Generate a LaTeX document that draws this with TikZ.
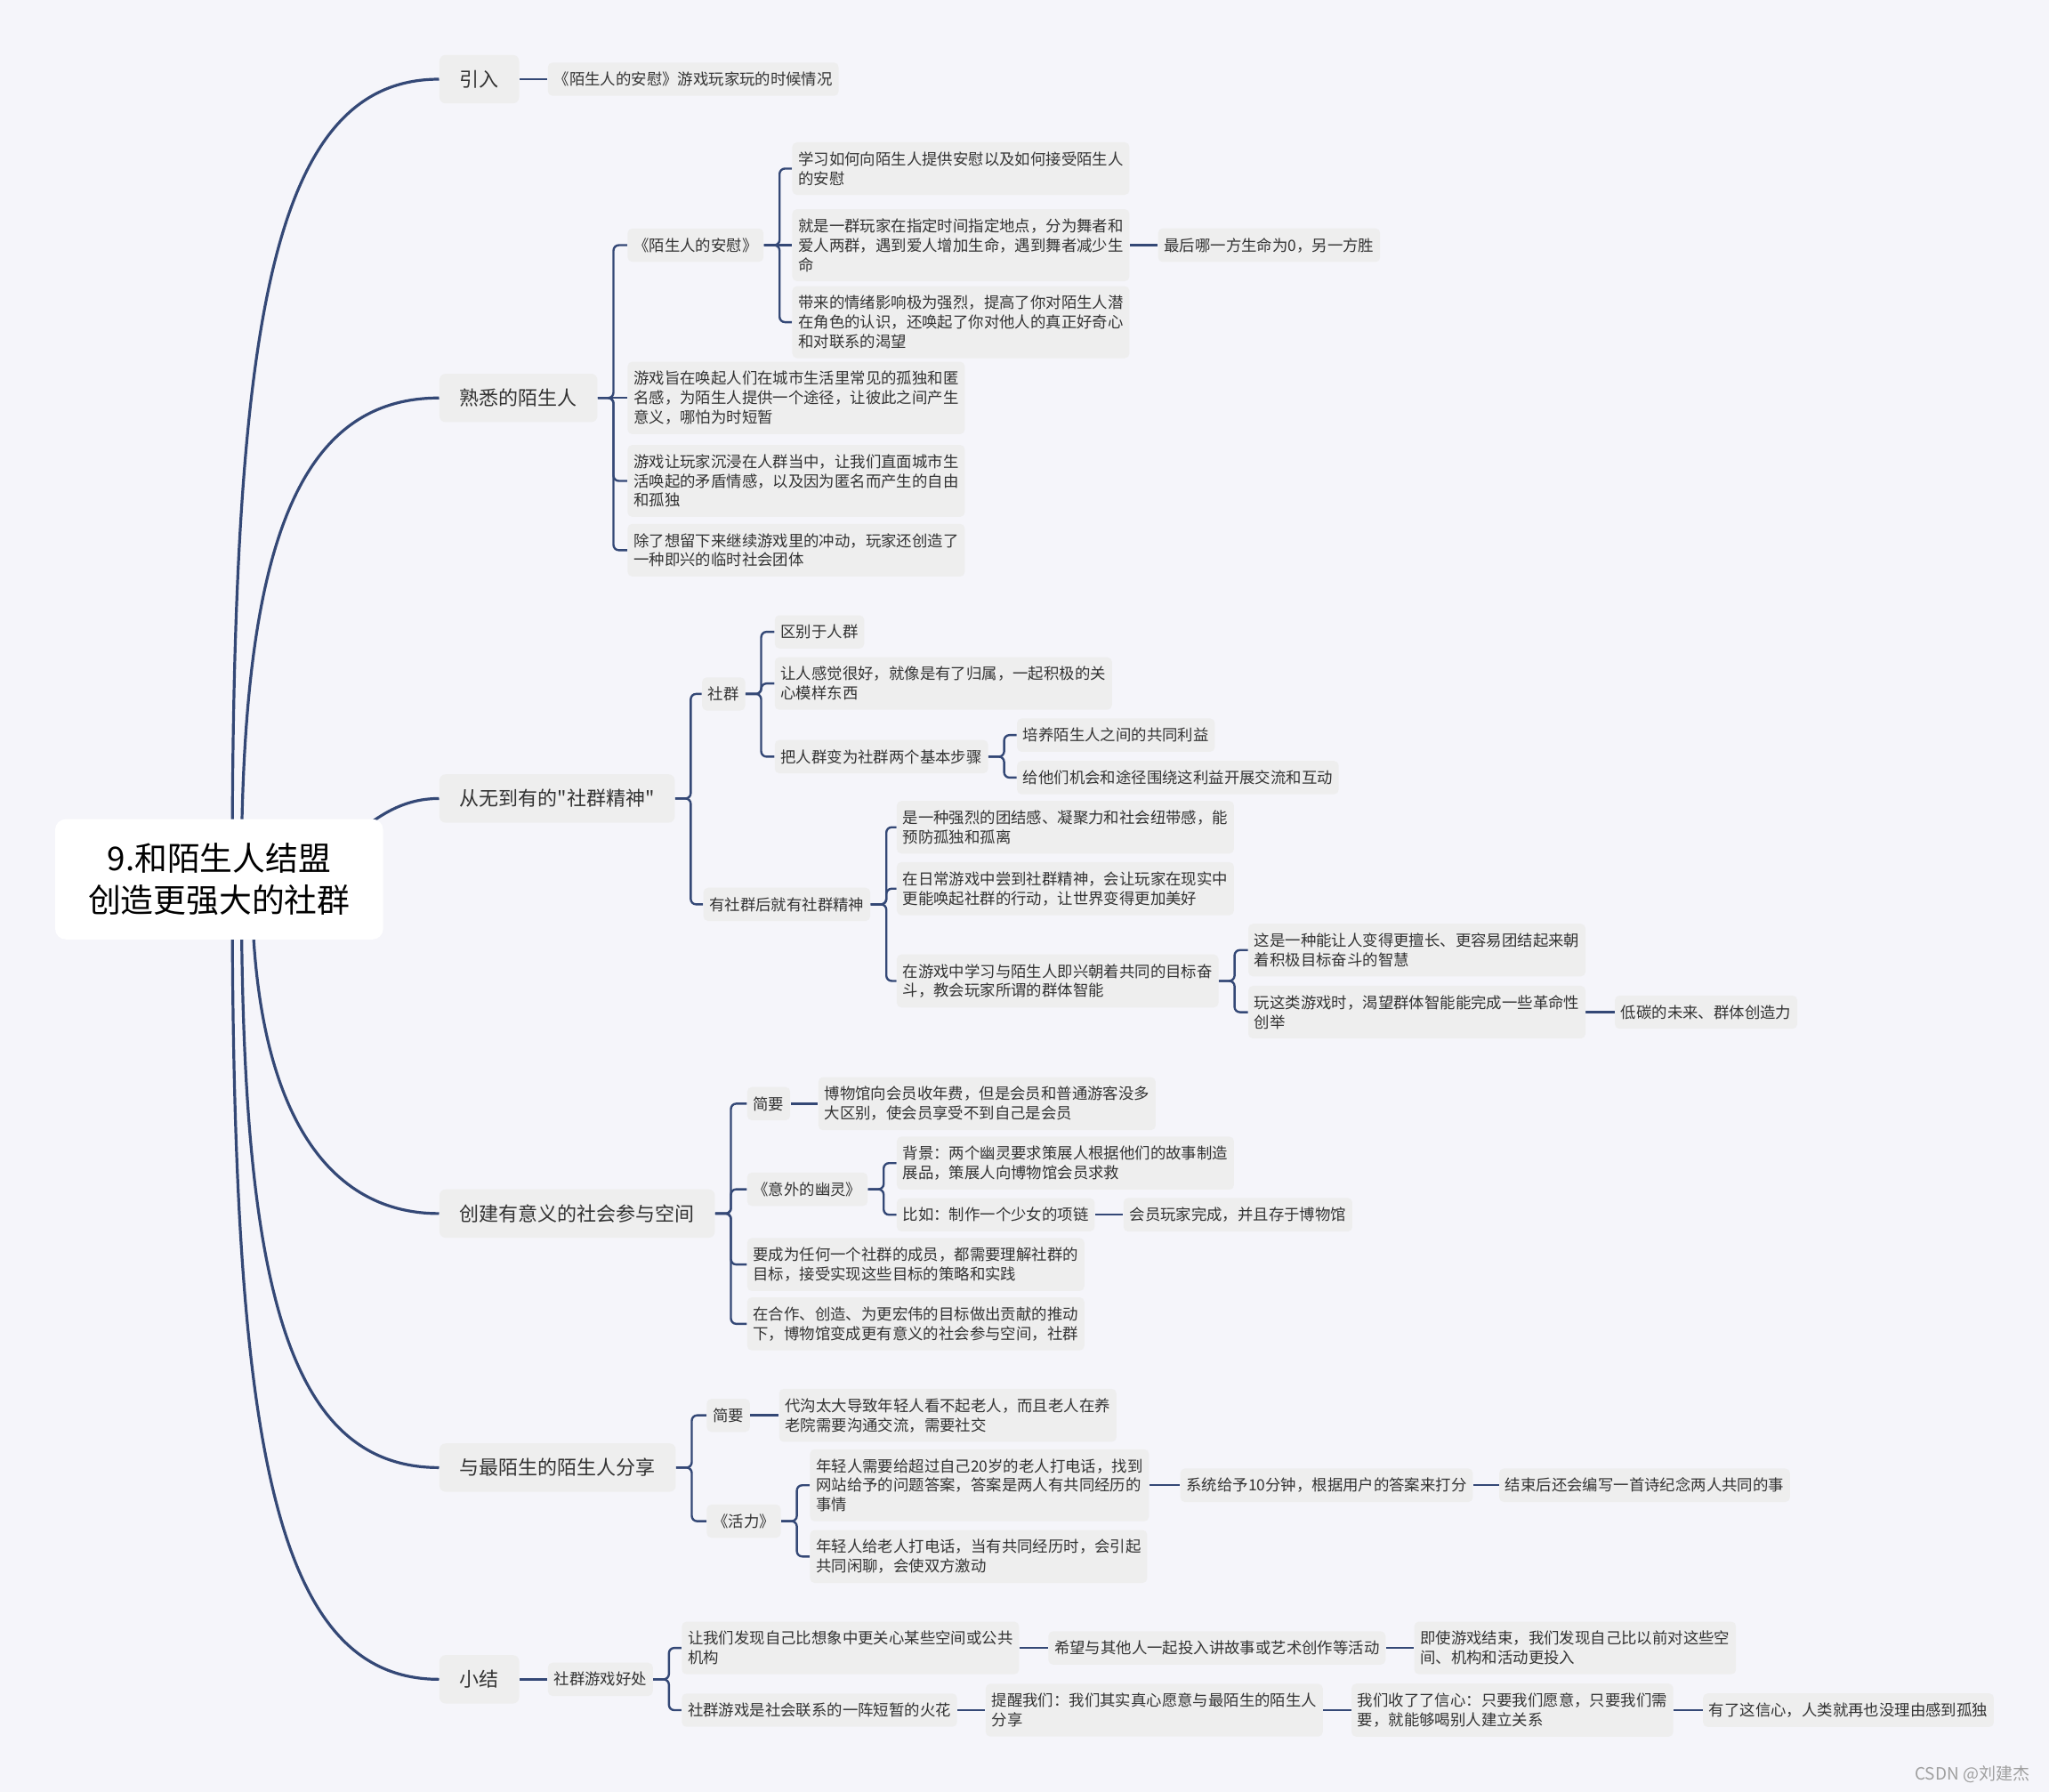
\documentclass[tikz,border=0pt]{standalone}
\usepackage[dvipsnames]{xcolor}
\usepackage{fontspec}
\setmainfont{Noto Sans CJK SC}
\newfontfamily\cjkfont{Noto Sans CJK SC}
\usetikzlibrary{calc,backgrounds}

\definecolor{bgcol}{RGB}{245,245,250}
\definecolor{boxcol}{RGB}{238,238,238}
\definecolor{linecol}{RGB}{52,72,118}
\definecolor{txtcol}{RGB}{51,51,51}

\tikzset{
  leaf/.style={fill=boxcol, rounded corners=2.6pt, inner xsep=3.4pt, inner ysep=5.3pt,
    minimum height=18.4pt, align=left, text=txtcol, anchor=west,
    font=\cjkfont\fontsize{8.7pt}{10.9pt}\selectfont},
  topic/.style={fill=boxcol, rounded corners=3.5pt, inner xsep=11.4pt, inner ysep=2pt,
    minimum height=27.2pt, text=txtcol, anchor=west,
    font=\cjkfont\fontsize{11pt}{13pt}\selectfont},
  rootbox/.style={fill=white, rounded corners=6pt, minimum width=184.3pt,
    minimum height=67.6pt, align=center, font=\cjkfont\fontsize{18.4pt}{23.4pt}\selectfont},
  trunk/.style={draw=linecol, line width=1.6pt},
  branch/.style={draw=linecol, line width=1.2pt, rounded corners=3pt},
}

\begin{document}
\begin{tikzpicture}[x=0.7344pt,y=-0.7344pt]
  \useasboundingbox (0,0) rectangle (1568,1371);
  \node[rootbox] (root) at (167.7,672.8) {9.和陌生人结盟\\创造更强大的社群};

  % 引入
  \node[topic] (t1) at (336,60.6) {引入};
  \node[leaf] (i1) at (419,60.6) {《陌生人的安慰》游戏玩家玩的时候情况};

  % 熟悉的陌生人
  \node[topic] (t2) at (336,304.5) {熟悉的陌生人};
  \node[leaf] (s1) at (480,187.6) {《陌生人的安慰》};
  \node[leaf] (b1) at (606,129) {学习如何向陌生人提供安慰以及如何接受陌生人\\的安慰};
  \node[leaf] (b2) at (606,187.6) {就是一群玩家在指定时间指定地点，分为舞者和\\爱人两群，遇到爱人增加生命，遇到舞者减少生\\命};
  \node[leaf] (b2x) at (886,187.6) {最后哪一方生命为0，另一方胜};
  \node[leaf] (b3) at (606,246.5) {带来的情绪影响极为强烈，提高了你对陌生人潜\\在角色的认识，还唤起了你对他人的真正好奇心\\和对联系的渴望};
  \node[leaf] (a1) at (480,304.5) {游戏旨在唤起人们在城市生活里常见的孤独和匿\\名感，为陌生人提供一个途径，让彼此之间产生\\意义，哪怕为时短暂};
  \node[leaf] (a2) at (480,368) {游戏让玩家沉浸在人群当中，让我们直面城市生\\活唤起的矛盾情感，以及因为匿名而产生的自由\\和孤独};
  \node[leaf] (a3) at (480,421) {除了想留下来继续游戏里的冲动，玩家还创造了\\一种即兴的临时社会团体};

  % 从无到有的"社群精神"
  \node[topic] (t3) at (336,611) {从无到有的"社群精神"};
  \node[leaf] (q1) at (537,531) {社群};
  \node[leaf] (r1) at (592.6,483.5) {区别于人群};
  \node[leaf] (r2) at (592.6,523) {让人感觉很好，就像是有了归属，一起积极的关\\心模样东西};
  \node[leaf] (r3) at (592.6,579) {把人群变为社群两个基本步骤};
  \node[leaf] (r3a) at (778,562.5) {培养陌生人之间的共同利益};
  \node[leaf] (r3b) at (778,595) {给他们机会和途径围绕这利益开展交流和互动};
  \node[leaf] (q2) at (538,692) {有社群后就有社群精神};
  \node[leaf] (c1) at (686,633) {是一种强烈的团结感、凝聚力和社会纽带感，能\\预防孤独和孤离};
  \node[leaf] (c2) at (686,680) {在日常游戏中尝到社群精神，会让玩家在现实中\\更能唤起社群的行动，让世界变得更加美好};
  \node[leaf] (c3) at (686,750.6) {在游戏中学习与陌生人即兴朝着共同的目标奋\\斗，教会玩家所谓的群体智能};
  \node[leaf] (d1) at (955,727) {这是一种能让人变得更擅长、更容易团结起来朝\\着积极目标奋斗的智慧};
  \node[leaf] (d2) at (955,774.5) {玩这类游戏时，渴望群体智能能完成一些革命性\\创举};
  \node[leaf] (d2x) at (1235.5,774.5) {低碳的未来、群体创造力};

  % 创建有意义的社会参与空间
  \node[topic] (t4) at (336,928.6) {创建有意义的社会参与空间};
  \node[leaf] (e1) at (571.5,844.5) {简要};
  \node[leaf] (e1x) at (626,844.5) {博物馆向会员收年费，但是会员和普通游客没多\\大区别，使会员享受不到自己是会员};
  \node[leaf] (e2) at (571.5,910) {《意外的幽灵》};
  \node[leaf] (f1) at (686,890) {背景：两个幽灵要求策展人根据他们的故事制造\\展品，策展人向博物馆会员求救};
  \node[leaf] (f2) at (686,929.5) {比如：制作一个少女的项链};
  \node[leaf] (f2x) at (859.5,929.5) {会员玩家完成，并且存于博物馆};
  \node[leaf] (e3) at (571.5,967.6) {要成为任何一个社群的成员，都需要理解社群的\\目标，接受实现这些目标的策略和实践};
  \node[leaf] (e4) at (571.5,1013) {在合作、创造、为更宏伟的目标做出贡献的推动\\下，博物馆变成更有意义的社会参与空间，社群};

  % 与最陌生的陌生人分享
  \node[topic] (t5) at (336,1123) {与最陌生的陌生人分享};
  \node[leaf] (g1) at (540.6,1083) {简要};
  \node[leaf] (g1x) at (596,1083) {代沟太大导致年轻人看不起老人，而且老人在养\\老院需要沟通交流，需要社交};
  \node[leaf] (g2) at (540.6,1164) {《活力》};
  \node[leaf] (h1) at (619.6,1136.5) {年轻人需要给超过自己20岁的老人打电话，找到\\网站给予的问题答案，答案是两人有共同经历的\\事情};
  \node[leaf] (h1x) at (903,1136.5) {系统给予10分钟，根据用户的答案来打分};
  \node[leaf] (h1xx) at (1147,1136.5) {结束后还会编写一首诗纪念两人共同的事};
  \node[leaf] (h2) at (619.6,1191) {年轻人给老人打电话，当有共同经历时，会引起\\共同闲聊，会使双方激动};

  % 小结
  \node[topic] (t6) at (336,1285) {小结};
  \node[leaf] (k) at (419,1285) {社群游戏好处};
  \node[leaf] (k1) at (521.5,1261) {让我们发现自己比想象中更关心某些空间或公共\\机构};
  \node[leaf] (k1x) at (802,1261) {希望与其他人一起投入讲故事或艺术创作等活动};
  \node[leaf] (k1xx) at (1082,1261) {即使游戏结束，我们发现自己比以前对这些空\\间、机构和活动更投入};
  \node[leaf] (k2) at (521.5,1308.6) {社群游戏是社会联系的一阵短暂的火花};
  \node[leaf] (k2x) at (754,1308.6) {提醒我们：我们其实真心愿意与最陌生的陌生人\\分享};
  \node[leaf] (k2xx) at (1034,1308.6) {我们收了了信心：只要我们愿意，只要我们需\\要，就能够喝别人建立关系};
  \node[leaf] (k2xxx) at (1303,1308.6) {有了这信心，人类就再也没理由感到孤独};

  \node[anchor=east, text=gray!75, font=\cjkfont\fontsize{9.5pt}{11pt}\selectfont] (mark) at (1558,1358) {CSDN @刘建杰};

  \begin{pgfonlayer}{background}
    \fill[bgcol] (0,0) rectangle (1568,1371);
    % curves from the root
    \draw[trunk] ($(root.center)+(10,0)$) .. controls +(0,-420) and +(-130,0) .. (t1.west);
    \draw[trunk] ($(root.center)+(17,0)$) .. controls +(0,-250) and +(-110,0) .. (t2.west);
    \draw[trunk] ($(root.center)+(32,0)$) .. controls +(60,0) and +(-60,0) .. (t3.west);
    \draw[trunk] ($(root.center)+(25,0)$) .. controls +(0,170) and +(-90,0) .. (t4.west);
    \draw[trunk] ($(root.center)+(17,0)$) .. controls +(0,300) and +(-120,0) .. (t5.west);
    \draw[trunk] ($(root.center)+(10,0)$) .. controls +(0,420) and +(-130,0) .. (t6.west);
    % brackets
    \foreach \p/\c in {t2/s1,t2/a2,t2/a3,s1/b1,s1/b3,t3/q1,t3/q2,q1/r1,q1/r2,q1/r3,
        r3/r3a,r3/r3b,q2/c1,q2/c2,q2/c3,c3/d1,c3/d2,t4/e1,t4/e2,t4/e3,t4/e4,
        e2/f1,e2/f2,t5/g1,t5/g2,g2/h1,g2/h2,k/k1,k/k2}
      {\draw[branch] (\p.east) -- ++(12,0) |- (\c.west);}
    % straight links
    \foreach \p/\c in {t1/i1,t2/a1,s1/b2,b2/b2x,d2/d2x,e1/e1x,f2/f2x,g1/g1x,h1/h1x,
        h1x/h1xx,t6/k,k1/k1x,k1x/k1xx,k2/k2x,k2x/k2xx,k2xx/k2xxx}
      {\draw[branch] (\p.east) -- (\c.west);}
  \end{pgfonlayer}
\end{tikzpicture}
\end{document}
